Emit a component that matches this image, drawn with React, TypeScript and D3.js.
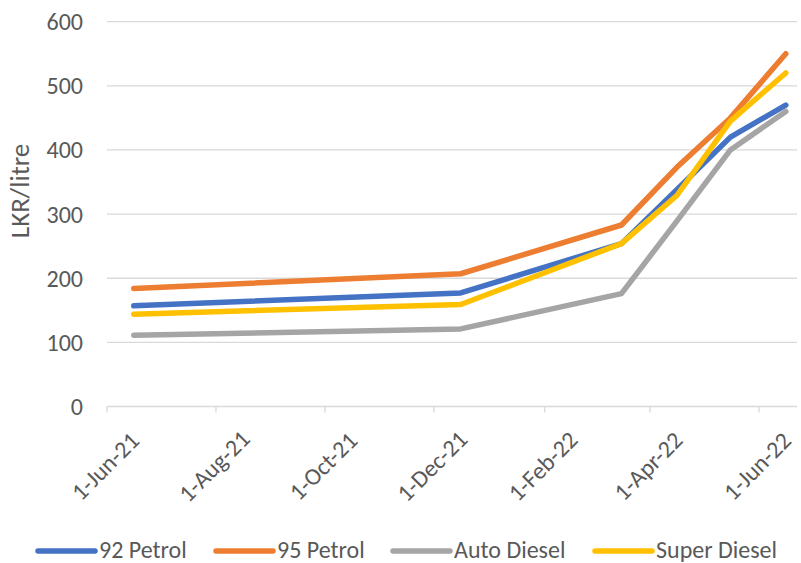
import React from "react";
import * as d3 from "d3";

const dates: string[] = ["2021-06-16", "2021-12-16", "2022-03-16", "2022-04-16", "2022-05-16", "2022-06-16"];
const petrol92: number[] = [157, 177, 254, 338, 420, 470];
const petrol95: number[] = [184, 207, 283, 373, 450, 550];
const autoDiesel: number[] = [111, 121, 176, 289, 400, 460];
const superDiesel: number[] = [144, 159, 254, 329, 445, 520];
const seriesNames: string[] = ["92 Petrol", "95 Petrol", "Auto Diesel", "Super Diesel"];
const seriesColors: string[] = ["#4472C4", "#ED7D31", "#A5A5A5", "#FFC000"];
const tickDates: string[] = ["2021-06-01", "2021-08-01", "2021-10-01", "2021-12-01", "2022-02-01", "2022-04-01", "2022-06-01"];
const yTicks: number[] = [0, 100, 200, 300, 400, 500, 600];

const W = 801;
const H = 563;
const FONT = "Calibri, Carlito, 'Open Sans', sans-serif";
const TEXT = "#595959";
const FS = 24;

const parse = d3.timeParse("%Y-%m-%d");
const fmt = d3.timeFormat("%-d-%b-%y");

export default function App() {
  const x = d3
    .scaleTime()
    .domain([parse("2021-06-01")!, parse("2022-06-01")!])
    .range([107, 759]);
  const y = d3.scaleLinear().domain([0, 600]).range([406.5, 21.7]);
  const series = [petrol92, petrol95, autoDiesel, superDiesel];
  const pDates = dates.map((d) => parse(d)!);
  const line = d3
    .line<number>()
    .x((_, i) => x(pDates[i]))
    .y((v) => y(v));

  const legendX = [38, 216, 393, 595];
  const legendY = 549.5;

  return (
    <svg
      width={W}
      height={H}
      style={{ position: "absolute", left: 0, top: 0, background: "#fff" }}
      fontFamily={FONT}
    >
      <rect width={W} height={H} fill="#fff" />
      {yTicks.map((t) => (
        <g key={t}>
          {t > 0 && (
            <line x1={107} x2={797} y1={y(t)} y2={y(t)} stroke="#D9D9D9" strokeWidth={1.3} />
          )}
          <text x={83} y={y(t)} dy="0.35em" textAnchor="end" fontSize={FS} fill={TEXT}>
            {t}
          </text>
        </g>
      ))}
      <line x1={107} x2={797} y1={y(0)} y2={y(0)} stroke="#D9D9D9" strokeWidth={1.3} />
      {tickDates.map((d) => {
        const dt = parse(d)!;
        const tx = x(dt);
        return (
          <g key={d}>
            <line x1={tx} x2={tx} y1={y(0)} y2={y(0) + 6} stroke="#D9D9D9" strokeWidth={1.3} />
            <text
              transform={`translate(${tx - 2},${466}) rotate(-45)`}
              textAnchor="middle"
              dy="0.35em"
              fontSize={FS}
              fill={TEXT}
            >
              {fmt(dt)}
            </text>
          </g>
        );
      })}
      <text
        transform={`translate(20,${191}) rotate(-90)`}
        textAnchor="middle"
        dy="0.35em"
        fontSize={27}
        fill={TEXT}
      >
        LKR/litre
      </text>
      {series.map((s, i) => (
        <path
          key={i}
          d={line(s) || ""}
          fill="none"
          stroke={seriesColors[i]}
          strokeWidth={5.5}
          strokeLinecap="round"
          strokeLinejoin="round"
        />
      ))}
      {seriesNames.map((n, i) => (
        <g key={n}>
          <line
            x1={legendX[i]}
            x2={legendX[i] + 57}
            y1={legendY + 1.5}
            y2={legendY + 1.5}
            stroke={seriesColors[i]}
            strokeWidth={5.5}
            strokeLinecap="round"
          />
          <text x={legendX[i] + 61} y={legendY} dy="0.35em" fontSize={FS} fill={TEXT}>
            {n}
          </text>
        </g>
      ))}
    </svg>
  );
}
